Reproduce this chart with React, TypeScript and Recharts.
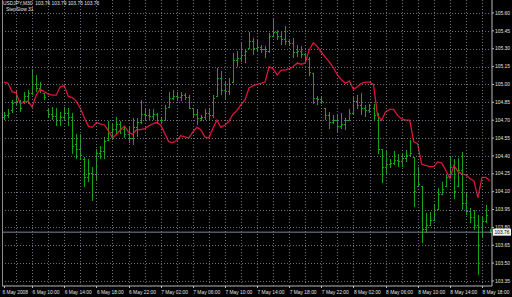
import React from "react";
import {
  ComposedChart,
  Bar,
  Line,
  XAxis,
  YAxis,
  ReferenceLine,
} from "recharts";

// USDJPY M30 bars, 6-8 May 2008
const highs = [
  104.77, 104.79, 104.87, 104.95, 104.87, 104.94, 104.95, 105.12, 105.08, 105.02,
  104.93, 104.79, 104.81, 104.8, 104.77, 104.81, 104.8, 104.76, 104.58, 104.58,
  104.39, 104.37, 104.31, 104.46, 104.48, 104.56, 104.69, 104.67, 104.73, 104.69,
  104.65, 104.65, 104.72, 104.72, 104.87, 104.8, 104.79, 104.79, 104.76, 104.73,
  104.83, 104.94,
  104.95, 104.94, 104.94, 104.93, 104.91, 104.8, 104.79, 104.74, 104.79, 104.8,
  104.91, 105.14, 105.11, 105.02, 105.05, 105.26, 105.28, 105.35, 105.3, 105.44,
  105.39, 105.37, 105.33, 105.32, 105.43, 105.56, 105.46, 105.44, 105.49, 105.37,
  105.39, 105.33, 105.32, 105.26, 105.23, 105.09, 104.9, 104.9, 104.8, 104.77,
  104.74, 104.74,
  104.76, 104.72, 104.79, 104.9, 104.91, 104.93, 104.83, 104.84, 104.84, 104.76,
  104.45, 104.45, 104.37, 104.44, 104.42, 104.42, 104.45, 104.53, 104.39, 104.31,
  104.14, 103.92, 103.93, 103.99, 104.13, 104.18, 104.25, 104.39, 104.37, 104.38,
  104.43, 104.1, 103.96, 103.95, 103.9, 103.89, 103.99, 103.79,
];

const lows = [
  104.7, 104.72, 104.76, 104.83, 104.77, 104.84, 104.84, 104.91, 104.94, 104.93,
  104.87, 104.72, 104.7, 104.65, 104.65, 104.69, 104.65, 104.42, 104.37, 104.37,
  104.14, 104.18, 104.02, 104.2, 104.37, 104.37, 104.53, 104.53, 104.58, 104.58,
  104.55, 104.51, 104.49, 104.56, 104.67, 104.69, 104.7, 104.7, 104.67, 104.67,
  104.69, 104.81,
  104.87, 104.86, 104.86, 104.87, 104.79, 104.73, 104.66, 104.69, 104.7, 104.7,
  104.72, 104.9, 104.91, 104.88, 104.91, 105.02, 105.15, 105.19, 105.18, 105.3,
  105.25, 105.28, 105.26, 105.22, 105.26, 105.4, 105.37, 105.33, 105.33, 105.32,
  105.22, 105.23, 105.22, 105.18, 105.07, 104.84, 104.83, 104.84, 104.7, 104.63,
  104.67, 104.59,
  104.63, 104.62, 104.7, 104.76, 104.79, 104.74, 104.73, 104.76, 104.7, 104.42,
  104.17, 104.25, 104.3, 104.32, 104.31, 104.31, 104.35, 104.39, 103.97, 104.14,
  103.67, 103.75, 103.81, 103.86, 103.95, 104.07, 104.14, 104.23, 104.04, 104.14,
  103.95, 103.9, 103.84, 103.78, 103.4, 103.72, 103.84, 103.75,
];

const opens = [
  104.72, 104.74, 104.78, 104.85, 104.85, 104.86, 104.9, 104.92, 105.0, 104.97,
  104.92, 104.78, 104.75, 104.73, 104.7, 104.72, 104.76, 104.72, 104.5, 104.45,
  104.37, 104.22, 104.25, 104.24, 104.42, 104.44, 104.53, 104.6, 104.62, 104.66,
  104.62, 104.58, 104.55, 104.64, 104.68, 104.75, 104.74, 104.73, 104.75, 104.7,
  104.7, 104.81,
  104.88, 104.9, 104.89, 104.91, 104.89, 104.8, 104.75, 104.71, 104.72, 104.76,
  104.74, 104.9, 105.05, 104.95, 104.94, 105.02, 105.2, 105.22, 105.24, 105.3,
  105.36, 105.3, 105.31, 105.29, 105.28, 105.4, 105.44, 105.4, 105.38, 105.36,
  105.34, 105.27, 105.28, 105.25, 105.21, 105.09, 104.88, 104.87, 104.8, 104.74,
  104.68, 104.7,
  104.65, 104.66, 104.7, 104.76, 104.86, 104.82, 104.8, 104.78, 104.8, 104.74,
  104.45, 104.3, 104.33, 104.34, 104.36, 104.35, 104.38, 104.4, 104.39, 104.14,
  104.14, 103.78, 103.82, 103.86, 103.95, 104.08, 104.14, 104.23, 104.3, 104.14,
  104.28, 104.0, 103.93, 103.88, 103.82, 103.8, 103.85, 103.76,
];

const closes = [
  104.74, 104.76, 104.84, 104.86, 104.8, 104.9, 104.92, 105.0, 104.97, 104.95,
  104.89, 104.75, 104.73, 104.7, 104.72, 104.76, 104.72, 104.48, 104.45, 104.4,
  104.22, 104.25, 104.24, 104.42, 104.44, 104.52, 104.6, 104.62, 104.66, 104.62,
  104.58, 104.55, 104.64, 104.68, 104.75, 104.74, 104.73, 104.75, 104.7, 104.7,
  104.8, 104.88,
  104.9, 104.89, 104.91, 104.89, 104.8, 104.75, 104.71, 104.72, 104.76, 104.74,
  104.88, 105.05, 104.95, 104.94, 105.0, 105.2, 105.22, 105.24, 105.28, 105.36,
  105.3, 105.31, 105.29, 105.28, 105.4, 105.44, 105.4, 105.38, 105.36, 105.34,
  105.27, 105.28, 105.25, 105.21, 105.1, 104.88, 104.87, 104.86, 104.74, 104.68,
  104.7, 104.65,
  104.66, 104.7, 104.76, 104.86, 104.82, 104.8, 104.78, 104.8, 104.74, 104.45,
  104.3, 104.33, 104.34, 104.36, 104.35, 104.38, 104.4, 104.42, 104.1, 104.16,
  103.78, 103.82, 103.86, 103.94, 104.08, 104.12, 104.22, 104.3, 104.1, 104.28,
  104.0, 103.93, 103.88, 103.82, 103.8, 103.85, 103.9, 103.76,
];

// StepSlow indicator line
const stepSlow = [
  105.02, 105.01, 104.94, 104.93, 104.84, 104.85, 104.86, 104.81, 104.91, 104.96,
  104.94, 104.92, 104.91, 104.91, 104.98, 104.99, 104.9, 104.89, 104.86, 104.8,
  104.72, 104.65, 104.64, 104.68, 104.67, 104.66, 104.61, 104.55, 104.58, 104.62,
  104.65, 104.6, 104.58, 104.62, 104.62, 104.63, 104.65, 104.67, 104.68, 104.66,
  104.59, 104.52,
  104.51, 104.53, 104.57, 104.56, 104.55, 104.6, 104.64, 104.62, 104.56, 104.55,
  104.63, 104.7, 104.64, 104.66, 104.69, 104.75, 104.78, 104.83, 104.87, 104.97,
  104.99, 105.0, 105.01, 105.02, 105.15, 105.13, 105.08, 105.12, 105.12, 105.13,
  105.15, 105.18, 105.17, 105.18, 105.29, 105.35, 105.32, 105.27, 105.23, 105.19,
  105.14, 105.08,
  105.04, 105.01, 105.03, 104.96, 104.98, 105.01, 105.02, 105.02, 105.0, 104.74,
  104.7, 104.77, 104.79, 104.79, 104.74, 104.71, 104.7, 104.7, 104.52, 104.5,
  104.33, 104.32, 104.31, 104.31, 104.35, 104.34, 104.28, 104.21, 104.32, 104.27,
  104.25, 104.24, 104.21, 104.19, 104.05, 104.22, 104.22, 104.19,
];

const timeLabels = [
  "6 May 2008", "6 May 10:00", "6 May 14:00", "6 May 18:00", "6 May 22:00",
  "7 May 02:00", "7 May 06:00", "7 May 10:00", "7 May 14:00", "7 May 18:00",
  "7 May 22:00", "8 May 02:00", "8 May 06:00", "8 May 10:00", "8 May 14:00",
  "8 May 18:00",
];
const timeLabelBars = [0, 7, 15, 23, 31, 39, 47, 55, 63, 71, 79, 87, 95, 103, 111, 119];
const gridBars = [
  3, 7, 11, 15, 19, 23, 27, 31, 35, 39, 43, 47, 51, 55, 59, 63, 67, 71, 75, 79,
  83, 87, 91, 95, 99, 103, 107, 111, 115, 119,
];
const priceTicks = [
  103.35, 103.5, 103.65, 103.8, 103.95, 104.1, 104.25, 104.4, 104.55, 104.7,
  104.85, 105.0, 105.15, 105.3, 105.45, 105.6,
];
const lastPrice = 103.76;
const headerLine = "USDJPY,M30  103.76 103.79 103.75 103.76";
const indicatorName = "StepSlow 31";

const GREEN = "#14a514";
const RED = "#dc143c";
const GRID = "#6b717c";
const AXIS = "#b8b8b8";
const TEXT = "#e2e2e2";
const FONT = "'Liberation Sans', Arial, sans-serif";
const FS = 4.9;
const PLOT_LEFT = 2;
const PLOT_RIGHT = 492;
const PLOT_TOP = 0;
const PLOT_BOTTOM = 286;

const axisTicks = [0, ...gridBars];

const rows = highs.map((h, i) => ({
  i,
  range: [lows[i], h],
  high: h,
  low: lows[i],
  open: opens[i],
  close: closes[i],
  ma: stepSlow[i],
}));

function OhlcBar(props: any) {
  const { x, y, width, height, payload } = props;
  if (x == null || y == null) return null;
  const top = Math.min(y, y + height);
  const bottom = Math.max(y, y + height);
  const span = payload.high - payload.low;
  const cx = Math.round(x + width / 2) + 0.5;
  const py = (v: number) =>
    span > 0 ? top + ((payload.high - v) / span) * (bottom - top) : top;
  return (
    <g stroke={GREEN} strokeWidth={1} shapeRendering="crispEdges">
      <line x1={cx} x2={cx} y1={top} y2={Math.max(bottom, top + 1)} />
      <line x1={cx - 1.5} x2={cx} y1={py(payload.open)} y2={py(payload.open)} />
      <line x1={cx} x2={cx + 1.5} y1={py(payload.close)} y2={py(payload.close)} />
    </g>
  );
}

// time axis tick: dotted grid line every 2 hours, label every 4 hours
function TimeTick(props: any) {
  const { x, payload } = props;
  if (x == null) return null;
  const v = payload.value;
  const gx = Math.round(x) + 0.5;
  const k = timeLabelBars.indexOf(v);
  return (
    <g>
      {gridBars.includes(v) && (
        <line
          x1={gx}
          x2={gx}
          y1={PLOT_TOP}
          y2={PLOT_BOTTOM}
          stroke={GRID}
          strokeDasharray="1 2"
        />
      )}
      {k >= 0 && (
        <line
          x1={gx}
          x2={gx}
          y1={PLOT_BOTTOM}
          y2={PLOT_BOTTOM + 2}
          stroke={AXIS}
        />
      )}
      {k >= 0 && (
        <text
          x={k === 0 ? x - 1.5 : x + 0.5}
          y={PLOT_BOTTOM + 7.5}
          fontSize={FS}
          fill={TEXT}
          fontFamily={FONT}
          textAnchor="start"
        >
          {timeLabels[k]}
        </text>
      )}
    </g>
  );
}

// price axis tick: dotted grid line across the plot plus label
function PriceTick(props: any) {
  const { x, y, payload } = props;
  if (y == null) return null;
  const gy = Math.round(y) + 0.5;
  return (
    <g>
      <line
        x1={PLOT_LEFT}
        x2={PLOT_RIGHT}
        y1={gy}
        y2={gy}
        stroke={GRID}
        strokeDasharray="1 2"
      />
      <text
        x={x}
        y={y + 1.7}
        fontSize={FS}
        fill={TEXT}
        fontFamily={FONT}
        textAnchor="start"
      >
        {Number(payload.value).toFixed(2)}
      </text>
    </g>
  );
}

function PriceBox(props: any) {
  const vb = props.viewBox || {};
  const bx = vb.x + vb.width + 1;
  const by = vb.y;
  return (
    <g>
      <rect x={bx} y={by - 3.5} width={18} height={7} fill="#f2f2f2" />
      <text
        x={bx + 1.5}
        y={by + 1.8}
        fontSize={FS}
        fill="#000"
        fontFamily={FONT}
      >
        {lastPrice.toFixed(2)}
      </text>
    </g>
  );
}

export default function App() {
  return (
    <div
      style={{
        position: "fixed",
        left: 0,
        top: 0,
        width: 512,
        height: 297,
        background: "#000",
        overflow: "hidden",
      }}
    >
      <ComposedChart
        width={512}
        height={297}
        data={rows}
        margin={{ top: 0, right: 0, bottom: 0, left: 2 }}
        barCategoryGap={0}
      >
        <XAxis
          dataKey="i"
          type="category"
          ticks={axisTicks}
          interval={0}
          tick={<TimeTick />}
          tickSize={2}
          tickMargin={1}
          tickLine={false}
          axisLine={{ stroke: AXIS }}
          height={11}
        />
        <YAxis
          orientation="right"
          type="number"
          domain={[103.308, 105.709]}
          allowDataOverflow
          ticks={priceTicks}
          interval={0}
          width={20}
          tick={<PriceTick />}
          tickSize={2}
          tickMargin={1}
          tickLine={{ stroke: AXIS }}
          axisLine={{ stroke: AXIS }}
        />
        <ReferenceLine
          y={lastPrice}
          stroke="#7d8590"
          strokeWidth={1}
          label={<PriceBox />}
        />
        <Bar
          dataKey="range"
          shape={<OhlcBar />}
          isAnimationActive={false}
        />
        <Line
          type="linear"
          dataKey="ma"
          stroke={RED}
          strokeWidth={1.3}
          dot={false}
          activeDot={false}
          isAnimationActive={false}
        />
      </ComposedChart>
      <div
        style={{
          position: "absolute",
          left: 2,
          top: 0,
          width: 1,
          height: 286,
          background: "#8c8c8c",
        }}
      />
      <div
        style={{
          position: "absolute",
          left: 3,
          top: 1,
          fontFamily: FONT,
          fontSize: FS,
          lineHeight: "6px",
          color: TEXT,
          whiteSpace: "pre",
        }}
      >
        <div>{headerLine}</div>
        <div style={{ paddingLeft: 3 }}>{indicatorName}</div>
      </div>
    </div>
  );
}
